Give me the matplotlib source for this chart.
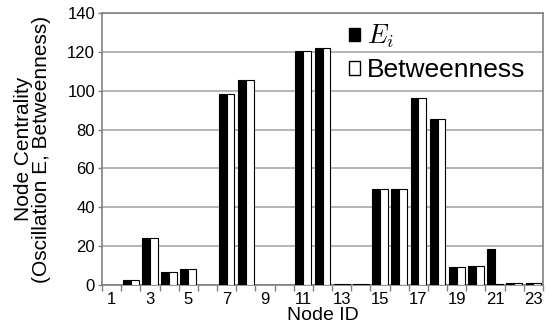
import matplotlib
matplotlib.use("Agg")
import matplotlib.pyplot as plt
import numpy as np
from matplotlib.patches import Patch

plt.rcParams['font.family'] = ['Liberation Sans', 'DejaVu Sans']
plt.rcParams['mathtext.fontset'] = 'cm'

nodes = list(range(1, 24))
e_values = [0, 2.5, 24, 6.5, 8, 0, 98.5, 105.5, 0, 0, 120.5, 122, 0.6, 0.6,
            49.5, 49.5, 96.5, 85.5, 9.5, 10, 18.5, 0.8, 0.8]
betweenness = [0, 2.5, 24, 6.5, 8, 0, 98.5, 105.5, 0, 0, 120.5, 122, 0.6, 0.6,
               49.5, 49.5, 96.5, 85.5, 9.5, 10, 0.3, 1.0, 0.8]
tick_labels = [str(n) for n in nodes if n % 2 == 1]
y_ticks = [0, 20, 40, 60, 80, 100, 120, 140]

fig = plt.figure(figsize=(5.46, 3.33), dpi=100)
ax = fig.add_axes([102/546, 1-285/333, 441/546, 272/333])

x = np.arange(1, len(nodes) + 1)
w = 0.41
ax.bar(x - w/2, e_values, w, color='black', edgecolor='black', linewidth=0.8, zorder=3)
ax.bar(x + w/2, betweenness, w, color='white', edgecolor='black', linewidth=0.8, zorder=3)

ax.set_xlim(0.5, len(nodes) + 0.5)
ax.set_ylim(0, 140)
ax.set_yticks(y_ticks)
ax.set_yticklabels([str(v) for v in y_ticks], fontsize=12)
ax.yaxis.grid(True, color='#a8a8a8', linewidth=1.2, zorder=0)
ax.set_axisbelow(True)

# category boundaries as tick marks, labels at odd categories
ax.set_xticks(np.arange(0.5, len(nodes) + 1, 1.0))
ax.set_xticklabels([])
ax.set_xticks([n for n in nodes if n % 2 == 1], minor=True)
ax.set_xticklabels(tick_labels, minor=True, fontsize=12)
ax.tick_params(axis='x', which='major', length=4, color='#808080', width=1)
ax.tick_params(axis='x', which='minor', length=0, pad=5)
ax.tick_params(axis='y', length=3, color='#808080', width=1, pad=2)

for s in ax.spines.values():
    s.set_color('#808080')
    s.set_linewidth(1.2)

ax.set_xlabel('Node ID', fontsize=14, labelpad=0)
ax.set_ylabel('Node Centrality\n(Oscillation E, Betweenness)', fontsize=15,
              labelpad=12, linespacing=0.9)

handles = [Patch(facecolor='black', edgecolor='black'),
           Patch(facecolor='white', edgecolor='black')]
leg = ax.legend(handles, [r'$E_i$', 'Betweenness'], loc='upper left',
                bbox_to_anchor=((349 - 102) / 441, (285 - 23) / 272),
                frameon=False, fontsize=19,
                handlelength=0.42, handleheight=0.42, handletextpad=0.25,
                labelspacing=0.3, borderaxespad=0.0, borderpad=0.0)

fig.savefig('out.png', dpi=100)
